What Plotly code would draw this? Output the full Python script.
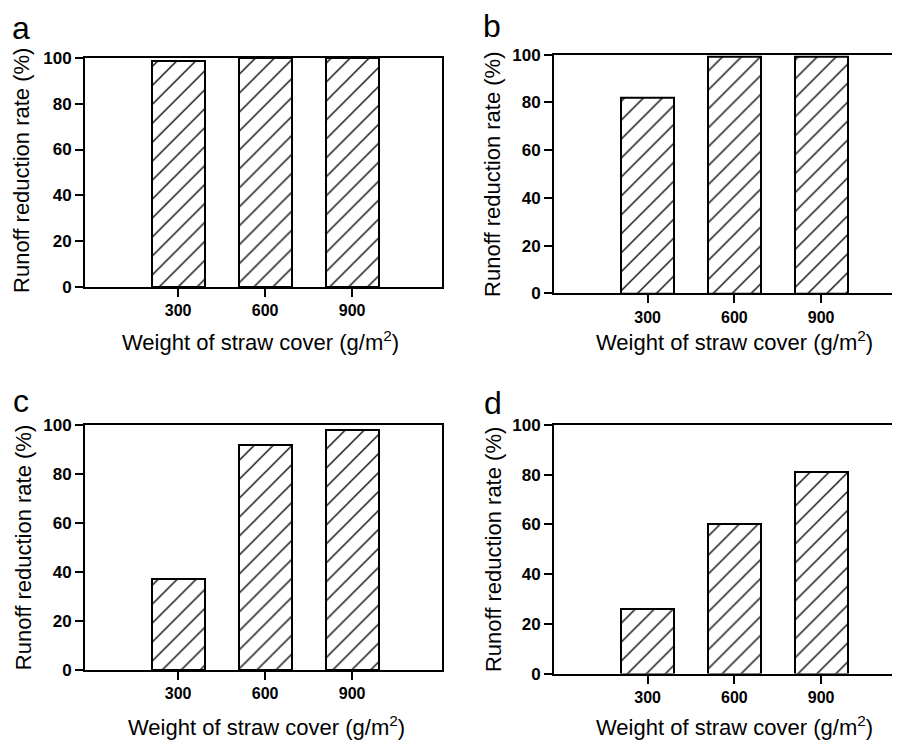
import plotly.graph_objects as go

weights = [300, 600, 900]
tick_labels = ["300", "600", "900"]
rate_a = [98.5, 100, 100]
rate_b = [82, 99, 99]
rate_c = [37, 92, 98]
rate_d = [26, 60, 81]
panel_letters = ["a", "b", "c", "d"]
y_ticks = [0, 20, 40, 60, 80, 100]

W, H = 900, 747
OFF = 8  # page body margin offset in the browser
FONT = "Arial, Liberation Sans, sans-serif"

def px_x(p):
    return (p - OFF) / W

def px_y(p):
    return 1 - (p - OFF) / H

# panel boxes in target pixels: left, right, top, bottom, xrange
panels = [
    dict(data=rate_a, box=(85, 442, 50, 285), xr=[-21, 1210]),
    dict(data=rate_b, box=(554, 900, 46.7, 291.7), xr=[-24, 1173]),
    dict(data=rate_c, box=(85, 442, 426.7, 678.3), xr=[-21, 1210]),
    dict(data=rate_d, box=(554, 900, 426.7, 681.7), xr=[-24, 1173]),
]

fig = go.Figure()
for i, p in enumerate(panels):
    n = "" if i == 0 else str(i + 1)
    l, r, t, b = p["box"]
    fig.add_trace(go.Bar(
        x=weights, y=p["data"], width=183,
        xaxis="x" + n, yaxis="y" + n,
        marker=dict(color="white",
                    line=dict(color="black", width=2),
                    pattern=dict(shape="/", fgcolor="black", bgcolor="white",
                                 fgopacity=1, size=13.4, solidity=0.1)),
        showlegend=False, hoverinfo="skip",
    ))
    right_mirror = i in (0, 2)
    fig.layout["xaxis" + n] = dict(
        domain=[px_x(l), min(px_x(r), 1.0)], range=p["xr"], anchor="y" + n,
        tickvals=weights, ticktext=tick_labels,
        showgrid=False, zeroline=False, showline=True, linecolor="black",
        linewidth=2, mirror=True, ticks="outside", ticklen=8, tickwidth=2,
        tickcolor="black",
        tickfont=dict(family=FONT, size=16, color="black", weight="bold"),
    )
    fig.layout["yaxis" + n] = dict(
        domain=[px_y(b), px_y(t)], range=[0, 100], anchor="x" + n,
        tickvals=y_ticks,
        showgrid=False, zeroline=False, showline=True, linecolor="black",
        linewidth=2, mirror=right_mirror, ticks="outside", ticklen=8,
        tickwidth=2, tickcolor="black",
        tickfont=dict(family=FONT, size=17, color="black", weight="bold"),
    )

ann = []
ytitle_pos = [(22, 166), (493, 170), (23, 553), (493, 555)]
xtitle_pos = [(261, 340), (734, 340), (266, 735), (734, 735)]
letter_pos = [(21, 19), (492, 17), (21, 402), (493, 404)]
for i in range(4):
    x, y = ytitle_pos[i]
    ann.append(dict(x=px_x(x), y=px_y(y), xref="paper", yref="paper",
                    text="Runoff reduction rate (%)", textangle=-90,
                    showarrow=False, xanchor="center", yanchor="middle",
                    font=dict(family=FONT, size=22, color="black")))
    x, y = xtitle_pos[i]
    ann.append(dict(x=px_x(x), y=px_y(y), xref="paper", yref="paper",
                    text="Weight of straw cover (g/m<sup>2</sup>)",
                    showarrow=False, xanchor="center", yanchor="middle",
                    font=dict(family=FONT, size=22, color="black")))
    x, y = letter_pos[i]
    ann.append(dict(x=px_x(x), y=px_y(y), xref="paper", yref="paper",
                    text=panel_letters[i], showarrow=False,
                    xanchor="center", yanchor="middle",
                    font=dict(family=FONT, size=32, color="black")))

fig.update_layout(
    width=W, height=H, margin=dict(l=0, r=0, t=0, b=0),
    paper_bgcolor="white", plot_bgcolor="white",
    annotations=ann, bargap=0,
)

fig.write_html("out.html")
